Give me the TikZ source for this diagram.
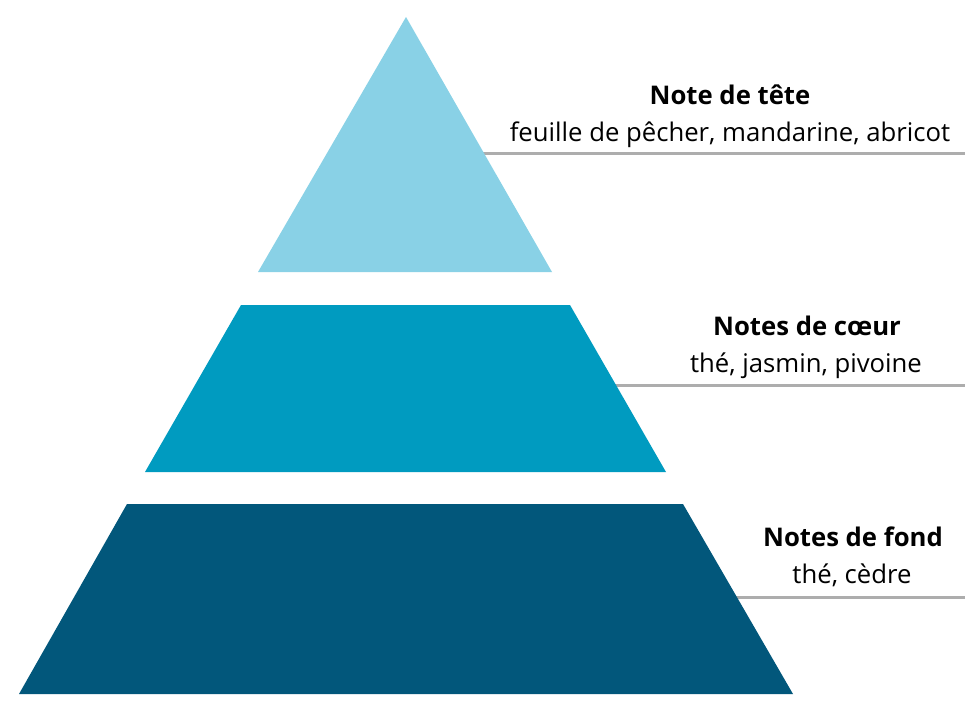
\documentclass[tikz,border=0pt]{standalone}
\usepackage{fontspec}
\setmainfont{Open Sans}
\definecolor{tierA}{HTML}{89D1E6}
\definecolor{tierB}{HTML}{009BC0}
\definecolor{tierC}{HTML}{02577B}
\definecolor{leader}{HTML}{ADADAD}
\begin{document}
\begin{tikzpicture}[x=1pt,y=-1pt,
  tier/.style={draw=none},
  leaderline/.style={draw=leader,line width=3pt},
  title/.style={anchor=base,inner sep=0pt,font=\fontsize{25.7}{30}\selectfont\bfseries},
  notes/.style={anchor=base,inner sep=0pt,font=\fontsize{25.7}{30}\selectfont}]
\useasboundingbox[fill=white] (0,0) rectangle (980,710);
% leader lines (drawn under the shapes)
\coordinate (l1a) at (470,153); \coordinate (l1b) at (965,153);
\coordinate (l2a) at (600,385); \coordinate (l2b) at (965,385);
\coordinate (l3a) at (720,597); \coordinate (l3b) at (965,597);
\draw[leaderline] (l1a) -- (l1b);
\draw[leaderline] (l2a) -- (l2b);
\draw[leaderline] (l3a) -- (l3b);
% tiers
\fill[tierA] (406,17) -- (552,272) -- (258,272) -- cycle;
\fill[tierB] (241,305) -- (570,305) -- (666,472) -- (145,472) -- cycle;
\fill[tierC] (127,504) -- (683,504) -- (793,694) -- (19,694) -- cycle;
% texts
\node[title] (t1) at (730,104) {Note de tête};
\node[notes] (n1) at (730,141) {feuille de pêcher, mandarine, abricot};
\node[title] (t2) at (807,335) {Notes de cœur};
\node[notes] (n2) at (806,372) {thé, jasmin, pivoine};
\node[title] (t3) at (853,546) {Notes de fond};
\node[notes] (n3) at (852,583) {thé, cèdre};
\end{tikzpicture}
\end{document}
